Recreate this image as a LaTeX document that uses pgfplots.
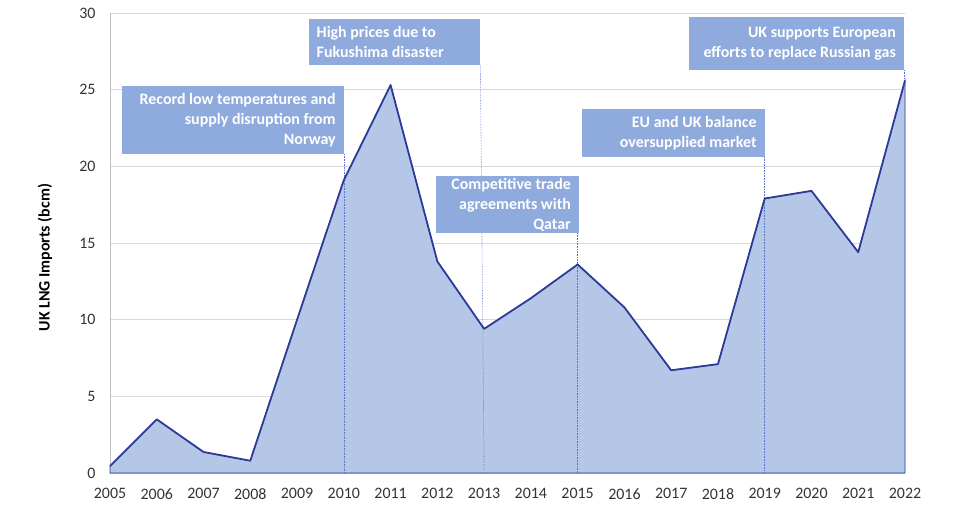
\documentclass[border=0pt]{standalone}
\usepackage{fontspec}
\setmainfont{Carlito}
\usepackage{pgfplots}
\pgfplotsset{compat=1.18}
\definecolor{areafill}{HTML}{B4C7E7}
\definecolor{linecol}{HTML}{2E3A98}
\definecolor{dotcol}{HTML}{5B6FCF}
\definecolor{boxfill}{HTML}{8FAADC}
\definecolor{gridcol}{HTML}{D9D9D9}
\definecolor{axcol}{HTML}{BFBFBF}
\definecolor{tickcol}{HTML}{333333}
\begin{document}
\begin{tikzpicture}
\path (0,0) rectangle (959bp,524bp);
\begin{axis}[
  at={(110bp,51bp)}, anchor=south west,
  scale only axis, width=795bp, height=460bp,
  xmin=2005, xmax=2022, ymin=0, ymax=30,
  xtick={2005,2006,...,2022}, ytick={0,5,...,30},
  /pgf/number format/1000 sep={},
  /pgf/number format/assume math mode=true,
  major tick length=0pt,
  tick style={draw=none},
  ticklabel style={font=\fontsize{16}{18}\selectfont, text=tickcol},
  yticklabel style={xshift=-11bp},
  xticklabel style={yshift=-12bp},
  ymajorgrids, grid style={gridcol, line width=0.8bp},
  axis x line*=bottom,
  axis y line*=left, axis line style={axcol, line width=0.8bp, -},
  ylabel={UK LNG Imports (bcm)},
  ylabel style={at={(axis description cs:-0.0818,0.468)}, anchor=center, font=\bfseries\fontsize{16}{18}\selectfont},
  clip=false,
]
\addplot[fill=areafill, draw=linecol, line width=0.6bp] coordinates {
(2005,0.45) (2006,3.5) (2007,1.37) (2008,0.8) (2009,10.0) (2010,19.1)
(2011,25.3) (2012,13.8) (2013,9.4) (2014,11.4) (2015,13.6) (2016,10.8)
(2017,6.7) (2018,7.1) (2019,17.9) (2020,18.4) (2021,14.4) (2022,25.6)
} \closedcycle;
\draw[dotcol, densely dotted, line width=0.6bp] (axis cs:2010,20.8) -- (axis cs:2010,0);
\draw[dotcol, densely dotted, line width=0.6bp] (axis cs:2012.92,26.6) -- (axis cs:2013,0);
\draw[dotcol, densely dotted, line width=0.6bp] (axis cs:2015,15.65) -- (axis cs:2015,0);
\draw[dotcol, densely dotted, line width=0.6bp] (axis cs:2019,20.6) -- (axis cs:2019,0);
\draw[dotcol, densely dotted, line width=0.6bp] (axis cs:2021.98,26.28) -- (axis cs:2021.98,25.6);
\addplot[linecol, line width=1.8bp, line join=round] coordinates {
(2005,0.45) (2006,3.5) (2007,1.37) (2008,0.8) (2009,10.0) (2010,19.1)
(2011,25.3) (2012,13.8) (2013,9.4) (2014,11.4) (2015,13.6) (2016,10.8)
(2017,6.7) (2018,7.1) (2019,17.9) (2020,18.4) (2021,14.4) (2022,25.6)
};
\tikzset{bx/.style={fill=boxfill, text=white, font=\bfseries\fontsize{16}{20}\selectfont,
  inner xsep=8bp, inner ysep=0pt, anchor=north east}}
\node[bx, text width=206bp, minimum height=68bp, align=flush right] at (axis cs:2010,25.24)
  {Record low temperatures and\\supply disruption from\\Norway};
\node[bx, text width=155bp, minimum height=46bp, align=flush left] at (axis cs:2012.91,29.61)
  {High prices due to\\Fukushima disaster};
\node[bx, text width=127bp, minimum height=57bp, align=flush right] at (axis cs:2015.03,19.37)
  {Competitive trade\\agreements with\\Qatar};
\node[bx, text width=167bp, minimum height=48bp, align=flush right] at (axis cs:2019.0,23.74)
  {EU and UK balance\\oversupplied market};
\node[bx, text width=199bp, minimum height=53bp, align=flush right] at (axis cs:2021.98,29.74)
  {UK supports European\\efforts to replace Russian gas};
\end{axis}
\end{tikzpicture}
\end{document}
